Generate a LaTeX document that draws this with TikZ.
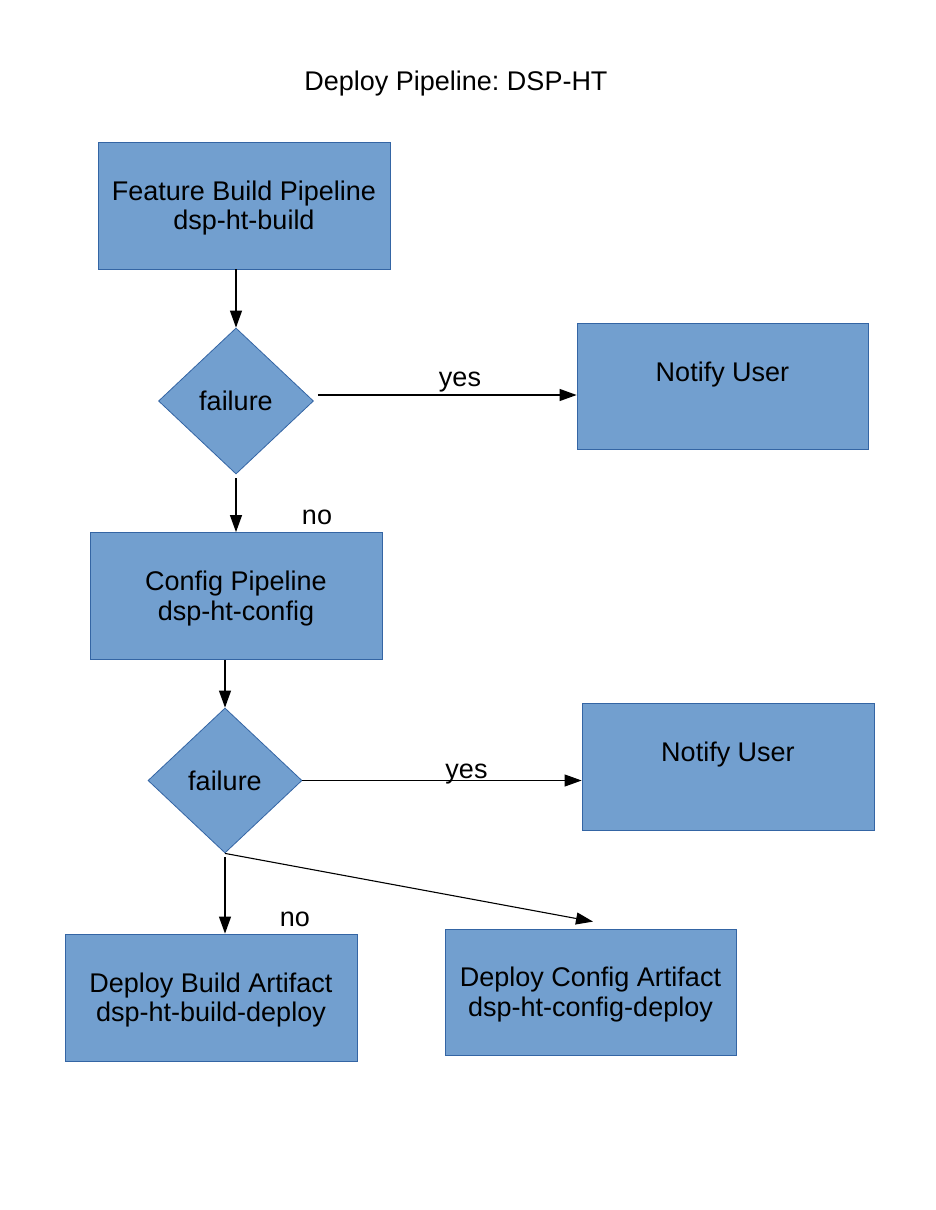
\documentclass[tikz,border=0pt]{standalone}
\usepackage{fontspec}
\setmainfont{Liberation Sans}
\usetikzlibrary{shapes.geometric,arrows.meta,calc}
\definecolor{boxfill}{HTML}{729FCF}
\definecolor{boxline}{HTML}{3465A4}
\newcommand\toppad{\rule{0pt}{25pt}}
\frenchspacing
\begin{document}
\begin{tikzpicture}[x=1pt,y=-1pt,
  every node/.style={font=\fontsize{27}{29.5}\selectfont},
  box/.style={draw=boxline,fill=boxfill,line width=0.8pt,minimum width=292pt,minimum height=127pt,align=center,inner sep=0pt},
  dia/.style={diamond,draw=boxline,fill=boxfill,line width=0.8pt,minimum width=155pt,minimum height=146pt,inner sep=0pt},
  arr/.style={-{Triangle[length=17pt,width=12pt]},line width=1.1pt},
  lbl/.style={inner sep=0pt,anchor=base}]
\useasboundingbox[fill=white] (0,0) rectangle (935,1210);

\node (title) at (456,84) {Deploy Pipeline: DSP-HT};

\node[box] (box1) at (244,205.5) {\toppad Feature Build Pipeline\\dsp-ht-build};
\node[dia] (d1) at (236,401) {failure};
\node[box,minimum width=291pt,minimum height=126pt] (n1) at (722.5,386) {Notify User\\\mbox{}};
\node[box] (box2) at (236,596) {\toppad Config Pipeline\\dsp-ht-config};
\node[dia,minimum width=154pt,minimum height=145pt] (d2) at (225,780.5) {failure};
\node[box] (n2) at (728,766.5) {Notify User\\\mbox{}};
\node[box] (box3) at (211,997.5) {\toppad Deploy Build Artifact\\dsp-ht-build-deploy};
\node[box,minimum width=291pt,minimum height=126pt] (box4) at (590.5,992) {\toppad Deploy Config Artifact\\dsp-ht-config-deploy};

\node[lbl] (yes1) at (460,386) {yes};
\node[lbl] (no1) at (317,524) {no};
\node[lbl] (yes2) at (466.5,778) {yes};
\node[lbl] (no2) at (295,926) {no};

\coordinate (y1) at ($(d1.east)+(4,-6)$);
\draw[arr] (box1.south -| d1.north) -- (d1.north);
\draw[arr] (y1) -- (y1 -| n1.west);
\draw[arr] ([yshift=-4pt]d1.south) -- (d1.south |- box2.north);
\draw[arr] (box2.south -| d2.north) -- (d2.north);
\draw[arr] (d2.east) -- (d2.east -| n2.west);
\draw[arr] ([yshift=-4pt]d2.south) -- (d2.south |- box3.north);
\draw[arr] (d2.south) -- ([xshift=2.5pt,yshift=7pt]box4.north);
\end{tikzpicture}
\end{document}
